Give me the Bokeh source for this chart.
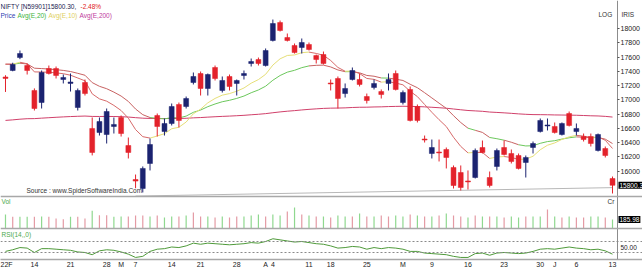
import numpy as np
from bokeh.plotting import figure
from bokeh.models import Range1d, LinearAxis, FixedTicker, Label, Span, ColumnDataSource
from bokeh.embed import file_html
from bokeh.resources import INLINE

# ---- data ----
opens = [17320, 17411, 17593, 17481, 17131, 16962, 17439, 17439, 17285, 17230,
         16892, 17243, 16598, 16541, 16513, 16626, 16752, 16359, 15882, 15756,
         16107, 16780, 16555, 16668, 16934, 16906, 17243, 17369, 17159, 17453,
         17131, 17327, 17229, 17341, 17509, 17565, 17481, 17832, 18084, 17874,
         17762, 17734, 17776, 17621, 17635, 17236, 17299, 17088, 17285, 17285,
         17046, 17173, 17116, 17229, 17369, 16962, 17145, 16906, 16450, 16247,
         16268, 16303, 16051, 15980, 15862, 15910, 16331, 15910, 16065, 16331,
         16247, 16219, 16121, 16331, 16555, 16633, 16626, 16513, 16808, 16555,
         16485, 16485, 16289, 16317, 15896]
highs = [17345, 17520, 17691, 17509, 17160, 17411, 17481, 17467, 17355, 17369,
         17159, 17285, 16752, 16752, 16878, 16752, 16780, 16471, 15952, 16065,
         16457, 16808, 16738, 16948, 16962, 17046, 17383, 17397, 17369, 17481,
         17327, 17355, 17285, 17411, 17579, 17593, 17720, 18126, 18112, 17930,
         17790, 17860, 17804, 17635, 17677, 17285, 17327, 17229, 17453, 17369,
         17088, 17285, 17145, 17369, 17411, 17131, 17187, 16934, 16499, 16443,
         16443, 16331, 16079, 16079, 16009, 16317, 16429, 15994, 16317, 16429,
         16303, 16247, 16219, 16415, 16738, 16738, 16682, 16682, 16836, 16668,
         16527, 16527, 16527, 16345, 15924]
lows = [17110, 17400, 17570, 17355, 16850, 16878, 17355, 17299, 17229, 17116,
        16850, 17060, 16220, 16499, 16387, 16527, 16485, 16177, 15760, 15700,
        16009, 16485, 16499, 16640, 16612, 16878, 17215, 17060, 17060, 17271,
        17102, 17131, 17060, 17285, 17467, 17481, 17467, 17818, 17958, 17818,
        17649, 17649, 17691, 17509, 17495, 17131, 16878, 17032, 17271, 17187,
        16948, 17145, 17018, 17131, 17131, 16934, 16696, 16682, 16401, 16177,
        16135, 16037, 15756, 15728, 15742, 15896, 16247, 15770, 16009, 16219,
        16107, 16023, 15910, 16247, 16541, 16570, 16527, 16499, 16626, 16499,
        16415, 16345, 16275, 16191, 15686]
closes = [17300, 17495, 17649, 17411, 16878, 17383, 17369, 17341, 17313, 17250,
          17131, 17088, 16261, 16696, 16836, 16654, 16527, 16261, 15860, 16037,
          16373, 16626, 16668, 16906, 16710, 17018, 17327, 17159, 17355, 17299,
          17271, 17187, 17271, 17369, 17537, 17509, 17691, 18070, 17972, 17832,
          17663, 17804, 17706, 17565, 17509, 17222, 17018, 17159, 17411, 17215,
          16990, 17229, 17074, 17285, 17145, 17102, 16710, 16710, 16436, 16331,
          16255, 16191, 15798, 15770, 15848, 16289, 16261, 15798, 16289, 16233,
          16135, 16037, 16191, 16387, 16710, 16647, 16541, 16668, 16640, 16598,
          16443, 16387, 16513, 16219, 15800.3]
volumes = [289, 242, 242, 242, 242, 248, 242, 207, 192, 242,
           242, 207, 366, 275, 275, 242, 248, 248, 269, 269,
           248, 269, 227, 248, 248, 269, 331, 248, 248, 227,
           248, 227, 248, 248, 269, 289, 248, 289, 269, 351,
           434, 289, 269, 248, 248, 227, 269, 248, 248, 310,
           248, 248, 269, 248, 269, 248, 289, 269, 248, 248,
           269, 310, 269, 248, 227, 269, 248, 248, 248, 227,
           248, 227, 248, 248, 248, 393, 248, 227, 248, 227,
           227, 248, 248, 227, 185.98]
vol_up = [1, 0, 1, 1, 0, 1, 0, 0, 0, 1, 0, 0, 1, 0, 0, 1, 1, 0, 0, 0,
          1, 0, 1, 1, 0, 1, 0, 0, 1, 0, 1, 0, 0, 1, 1, 1, 0, 1, 1, 0,
          1, 0, 1, 0, 1, 0, 1, 1, 0, 1, 0, 1, 0, 0, 1, 1, 0, 1, 0, 1,
          0, 1, 0, 0, 1, 0, 1, 0, 1, 0, 1, 1, 0, 1, 1, 0, 1, 0, 1, 0,
          0, 1, 1, 0, 1]
rsi = [42, 45, 49, 48, 40, 47, 47, 46, 45, 44, 41, 40, 36, 43, 45,
       44, 41, 37, 31, 33, 42, 46, 47,
       50, 49, 52, 57, 55, 57, 56, 55, 54, 55, 56, 58, 57, 60,
       65, 63, 61, 59, 60, 58, 56, 55,
       52, 48, 49, 51, 50, 46, 49, 47, 49, 48, 46, 42, 42, 39,
       38, 37, 36, 33, 31, 31, 38, 39, 35, 39, 40, 39, 38, 39,
       42, 46, 47, 46, 48, 50, 48, 47, 45, 46, 43, 37]
tick_idx = [0, 4, 9, 14, 16, 18, 23, 27, 32, 36, 37, 42, 45, 50, 55, 59, 64, 69, 74, 76, 79, 84]
tick_lbl = ["22F", "14", "21", "28", "M", "7", "14", "21", "28", "A", "4", "11",
            "18", "25", "M", "9", "16", "23", "30", "J", "6", "13"]
price_ticks = [16000, 16200, 16400, 16600, 16800, 17000, 17200, 17400, 17600, 17800, 18000]
ema_fast_seed = 17545
ema_slow_seed = 17520
ema200_seed = 16705
trend_idx = [18, 84]
trend_val = [15650, 15768]
last_close = 15800.3
last_vol = 185.98

# ---- derived ----
n = len(closes)
idx = np.arange(n)

def ema(vals, period, seed):
    a = 2.0 / (period + 1)
    out = []
    prev = seed
    for v in vals:
        prev = prev + a * (v - prev)
        out.append(prev)
    return out

ef = ema(closes, 10, ema_fast_seed)
es = ema(closes, 20, ema_slow_seed)
e200 = ema(closes, 200, ema200_seed)

UP = "#1b2370"
DN = "#e3222b"
ccol = [UP if c >= o else DN for o, c in zip(opens, closes)]
src = ColumnDataSource(dict(x=idx, h=highs, l=lows,
                            top=[max(o, c) for o, c in zip(opens, closes)],
                            bot=[min(o, c) for o, c in zip(opens, closes)],
                            col=ccol))

AX = 84.69          # price axis position (just right of the last candle)
XR = (-0.69, 88.15)
FH = 259
p = figure(frame_width=642, frame_height=FH, x_range=Range1d(*XR), y_range=Range1d(14760, 18393),
           output_backend="svg", toolbar_location=None, min_border_left=0, min_border_right=0,
           min_border_top=0, min_border_bottom=11, y_axis_location=None,
           background_fill_color="white", border_fill_color="white")
p.outline_line_color = None
p.grid.visible = False

k = 0.0484
p.extra_y_ranges = {"vol": Range1d(-31 / k, 228 / k), "rsi": Range1d(50 - 12.5 / 0.55, 50 + 246.5 / 0.55)}

# EMA200
p.line(idx, e200, color="#d0406a", line_width=1)

# fast / slow EMA colored segments
fc, sc = [], []
for i in range(1, n):
    bull = closes[i] >= ef[i]
    fc.append("#e6df78" if bull else "#d76a6a")
    sc.append("#6cc85c" if bull else "#c86262")
seg = ColumnDataSource(dict(x0=idx[:-1], x1=idx[1:], f0=ef[:-1], f1=ef[1:], s0=es[:-1], s1=es[1:], fc=fc, sc=sc))
p.segment("x0", "s0", "x1", "s1", source=seg, color="sc", line_width=1)
p.segment("x0", "f0", "x1", "f1", source=seg, color="fc", line_width=1)

# trend line
p.line(trend_idx, trend_val, color="#b8b8b8", line_width=1)

# candles
p.segment("x", "h", "x", "l", source=src, color="col", line_width=1)
p.vbar("x", 0.68, "top", "bot", source=src, fill_color="col", line_color="col", line_width=0.5)

# volume
vcol = ["#8fd88f" if u else "#e49aa4" for u in vol_up]
vs = ColumnDataSource(dict(x=idx, v=volumes, z=[0] * n, col=vcol))
p.segment("x", "z", "x", "v", source=vs, color="col", line_width=1.2, y_range_name="vol")

# RSI
p.line(idx, rsi, color="#4f9a3a", line_width=1, y_range_name="rsi")
for lv in (60, 40):
    p.add_layout(Span(location=lv, dimension="width", y_range_name="rsi",
                      line_color="#8a8a8a", line_dash="2 2", line_width=1))

# panel separators
p.add_layout(Span(location=0, dimension="width", y_range_name="vol", line_color="#a8a8a8", line_width=1.5))
p.add_layout(Span(location=(228 - 196) / k, dimension="width", y_range_name="vol", line_color="#a8a8a8", line_width=1.5))

FONT = "Liberation Sans"
ya = LinearAxis(fixed_location=AX, ticker=FixedTicker(ticks=price_ticks))
ya.axis_line_color = "#8c8c8c"
ya.major_tick_line_color = "#555555"
ya.major_tick_out = 2
ya.major_tick_in = 0
ya.minor_tick_line_color = None
ya.major_label_standoff = 1
ya.major_label_text_font = FONT
ya.major_label_text_font_size = "7px"
ya.major_label_text_color = "#222222"
p.add_layout(ya, "right")

xa = p.xaxis[0]
xa.ticker = FixedTicker(ticks=tick_idx)
xa.major_label_overrides = {t: s for t, s in zip(tick_idx, tick_lbl)}
xa.axis_line_color = "#a8a8a8"
xa.axis_line_width = 1.5
xa.major_tick_line_color = None
xa.major_tick_out = 0
xa.major_tick_in = 0
xa.minor_tick_line_color = None
xa.minor_tick_out = 0
xa.major_label_standoff = 1
xa.major_label_text_align = "left"
xa.major_label_text_font = FONT
xa.major_label_text_font_size = "7px"
xa.major_label_text_color = "#222222"

def lab(x, y, t, col, size="6.5px", **kw):
    p.add_layout(Label(x=x, y=y, x_units="screen", y_units="screen", text=t, text_color=col,
                       text_font=FONT, text_font_size=size, text_baseline="middle", **kw))

lab(0, FH - 6, "NIFTY [N59901]15800.30,", "#1a1a50")
lab(80, FH - 6, "-2.48%", "#e02020")
lab(0, FH - 15, "Price", "#3040b0")
lab(17, FH - 15, "Avg(E,20)", "#3cb43c")
lab(48, FH - 15, "Avg(E,10)", "#e0d060")
lab(79, FH - 15, "Avg(E,200)", "#c03c9c")
lab(598, FH - 14, "LOG", "#333333")
lab(621, FH - 14, "IRIS", "#333333")
lab(26, FH - 190, "Source : www.SpiderSoftwareIndia.Com", "#333333")
lab(1, FH - 201, "Vol", "#4caa4c")
lab(607, FH - 201, "Cr", "#333333")
lab(1, FH - 234, "RSI(14,,0)", "#4caa4c")
p.add_layout(Label(x=AX, y=50, y_range_name="rsi", text="50.00", text_color="#222222", text_font=FONT,
                   text_font_size="6.5px", text_baseline="middle", x_offset=3))
p.add_layout(Label(x=AX, y=last_close, text="15800.3", text_color="white", text_font=FONT,
                   text_font_size="6.5px", text_baseline="middle", x_offset=1,
                   background_fill_color="black", padding=1))
p.add_layout(Label(x=AX, y=last_vol, y_range_name="vol", text="185.98", text_color="white",
                   text_font=FONT, text_font_size="6.5px", text_baseline="middle", x_offset=1,
                   background_fill_color="black", padding=1))

open("out.html", "w").write(file_html(p, INLINE))
